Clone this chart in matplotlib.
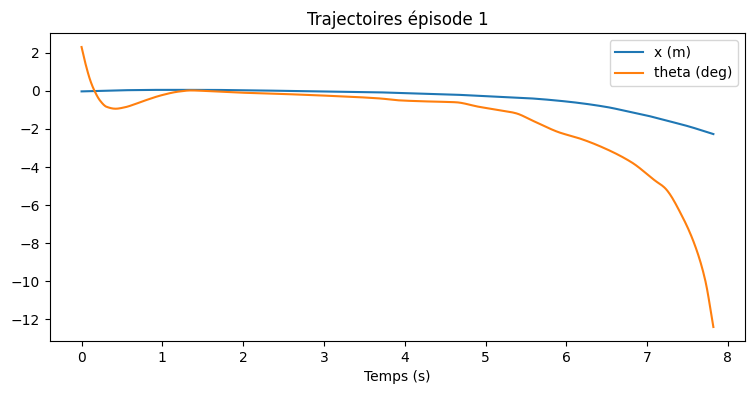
import matplotlib
matplotlib.use("Agg")
import matplotlib.pyplot as plt
import numpy as np

t_x = [0, 0.5, 1.0, 1.5, 2.0, 2.5, 3.0, 3.5, 4.0, 4.5, 5.0, 5.5, 6.0, 6.5, 6.81, 7.0, 7.22, 7.5, 7.82]
x_m = [-0.03, 0.03, 0.05, 0.05, 0.03, 0.0, -0.03, -0.06, -0.12, -0.18, -0.28, -0.38, -0.56, -0.85, -1.13, -1.3, -1.54, -1.85, -2.27]

t_theta = [0, 0.05, 0.11, 0.16, 0.23, 0.31, 0.42, 0.54, 0.66, 0.77, 1.0, 1.2, 1.35, 1.6, 2.0, 2.45, 3.0,
           3.69, 3.93, 4.3, 4.63, 4.92, 5.15, 5.37, 5.6, 5.91, 6.15, 6.4, 6.81, 7.1, 7.22,
           7.44, 7.6, 7.72, 7.82]
theta_deg = [2.3, 1.4, 0.52, 0.0, -0.52, -0.84, -0.94, -0.86, -0.7, -0.53, -0.22, -0.04, 0.02, -0.02, -0.1,
             -0.16, -0.25, -0.40, -0.5, -0.56, -0.6, -0.84, -1.0, -1.17, -1.6, -2.18, -2.48,
             -2.88, -3.76, -4.72, -5.1, -6.64, -8.21, -9.96, -12.4]

def smooth(t, v, n=400):
    # monotone cubic (PCHIP) interpolation of read points for a smooth line
    tt = np.linspace(t[0], t[-1], n)
    t = np.asarray(t, float); v = np.asarray(v, float)
    h = np.diff(t); d = np.diff(v) / h
    m = np.zeros_like(v)
    for k in range(1, len(v) - 1):
        if d[k - 1] * d[k] > 0:
            w1 = 2 * h[k] + h[k - 1]; w2 = h[k] + 2 * h[k - 1]
            m[k] = (w1 + w2) / (w1 / d[k - 1] + w2 / d[k])
    m[0] = d[0]; m[-1] = d[-1]
    idx = np.clip(np.searchsorted(t, tt) - 1, 0, len(t) - 2)
    s = (tt - t[idx]) / h[idx]
    h00 = 2*s**3 - 3*s**2 + 1; h10 = s**3 - 2*s**2 + s
    h01 = -2*s**3 + 3*s**2; h11 = s**3 - s**2
    vv = h00*v[idx] + h10*h[idx]*m[idx] + h01*v[idx+1] + h11*h[idx]*m[idx+1]
    return tt, vv

fig, ax = plt.subplots(figsize=(7.56, 3.94), dpi=100)
fig.subplots_adjust(left=0.0661, right=0.9854, top=0.9162, bottom=0.1345)
tx, xv = smooth(t_x, x_m)
tt, th = smooth(t_theta, theta_deg, n=800)
ax.plot(tx, xv, label="x (m)")
ax.plot(tt, th, label="theta (deg)")
ax.set_title("Trajectoires épisode 1")
ax.set_xlabel("Temps (s)")
ax.legend()
fig.savefig("out.png")
